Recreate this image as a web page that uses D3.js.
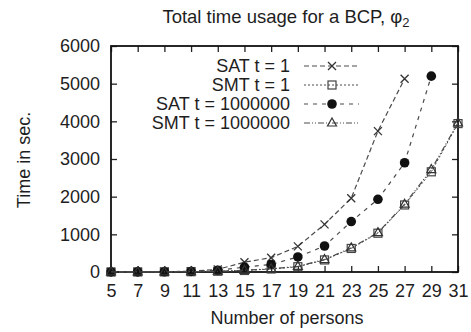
<!DOCTYPE html>
<html>
<head>
<meta charset="utf-8">
<script src="https://cdnjs.cloudflare.com/ajax/libs/d3/7.8.5/d3.min.js"></script>
<style>
  body { margin: 0; background: #fff; }
  text { font-family: "Liberation Sans", Arial, Helvetica, sans-serif; fill: #1e1e1e; }
</style>
</head>
<body>
<div id="chart"></div>
<script>
// number of persons
const persons = [5, 7, 9, 11, 13, 15, 17, 19, 21, 23, 25, 27, 29, 31];
const yTicks = [0, 1000, 2000, 3000, 4000, 5000, 6000];

// time in seconds (null = not run)
const satT1 = [2, 4, 8, 20, 70, 260, 380, 680, 1265, 1960, 3740, 5130, null, null];
const smtT1 = [1, 2, 4, 8, 20, 40, 80, 140, 320, 625, 1030, 1780, 2660, 3940];
const satTM = [1, 3, 6, 15, 45, 130, 200, 400, 690, 1340, 1930, 2900, 5200, null];
const smtTM = [1, 2, 4, 8, 20, 45, 85, 150, 330, 640, 1045, 1800, 2720, 3960];

const series = [
  { name: "SAT t = 1", values: satT1, dash: "5,3", marker: "cross", width: 1.2 },
  { name: "SMT t = 1", values: smtT1, dash: "2,2", marker: "square", width: 1 },
  { name: "SAT t = 1000000", values: satTM, dash: "4,5", marker: "circle", width: 1.2 },
  { name: "SMT t = 1000000", values: smtTM, dash: "6,2,1,2,1,2", marker: "triangle", width: 1.2 }
];

const W = 471, H = 332;
const margin = { top: 46, right: 13, bottom: 60, left: 111 };
const iw = W - margin.left - margin.right;
const ih = H - margin.top - margin.bottom;

const svg = d3.select("#chart").append("svg")
  .attr("width", W)
  .attr("height", H);

const x = d3.scaleLinear().domain([5, 31]).range([0, iw]);
const y = d3.scaleLinear().domain([0, 6000]).range([ih, 0]);

const g = svg.append("g").attr("transform", `translate(${margin.left},${margin.top})`);

// title
const title = svg.append("text")
  .attr("x", 286).attr("y", 23)
  .attr("text-anchor", "middle")
  .style("font-size", "18.5px");
title.append("tspan").text("Total time usage for a BCP, φ");
title.append("tspan").attr("dy", 4).style("font-size", "13px").text("2");

// axes (gnuplot style: inner ticks, mirrored)
const tickLen = 6;
const xAxis = g.append("g").attr("transform", `translate(0,${ih})`)
  .call(d3.axisBottom(x).tickValues(persons).tickSize(-tickLen).tickPadding(12).tickFormat(d3.format("d")));
const xTop = g.append("g")
  .call(d3.axisTop(x).tickValues(persons).tickSize(-tickLen).tickFormat(""));
const yAxis = g.append("g")
  .call(d3.axisLeft(y).tickValues(yTicks).tickSize(-tickLen).tickPadding(11).tickFormat(d3.format("d")));
const yRight = g.append("g").attr("transform", `translate(${iw},0)`)
  .call(d3.axisRight(y).tickValues(yTicks).tickSize(-tickLen).tickFormat(""));

[xAxis, xTop, yAxis, yRight].forEach(a => {
  a.select(".domain").remove();
  a.selectAll(".tick line").attr("stroke", "#222").attr("stroke-width", 1.3);
  a.selectAll("text").style("font-size", "18px").attr("fill", "#1e1e1e");
});

g.append("rect")
  .attr("width", iw).attr("height", ih)
  .attr("fill", "none").attr("stroke", "#111").attr("stroke-width", 1.8);

// axis labels
svg.append("text")
  .attr("x", 287).attr("y", 324)
  .attr("text-anchor", "middle")
  .style("font-size", "18px")
  .text("Number of persons");

svg.append("text")
  .attr("transform", "translate(30,160) rotate(-90)")
  .attr("text-anchor", "middle")
  .style("font-size", "18px")
  .text("Time in sec.");

// markers
function drawMarker(sel, type, cx, cy) {
  const s = 4;
  if (type === "cross") {
    sel.append("path")
      .attr("d", `M${cx - s},${cy - s}L${cx + s},${cy + s}M${cx - s},${cy + s}L${cx + s},${cy - s}`)
      .attr("stroke", "#333").attr("stroke-width", 1.3).attr("fill", "none");
  } else if (type === "square") {
    sel.append("rect")
      .attr("x", cx - s).attr("y", cy - s).attr("width", 2 * s).attr("height", 2 * s)
      .attr("fill", "none").attr("stroke", "#444").attr("stroke-width", 1.2);
  } else if (type === "circle") {
    sel.append("circle")
      .attr("cx", cx).attr("cy", cy).attr("r", 4.8)
      .attr("fill", "#111");
  } else if (type === "triangle") {
    sel.append("path")
      .attr("d", `M${cx},${cy - s - 1}L${cx + s + 0.5},${cy + s - 1}L${cx - s - 0.5},${cy + s - 1}Z`)
      .attr("fill", "none").attr("stroke", "#333").attr("stroke-width", 1.2);
  }
}

const line = d3.line()
  .defined(d => d.v !== null)
  .x(d => x(d.p))
  .y(d => y(d.v));

series.forEach(s => {
  const pts = persons.map((p, i) => ({ p: p, v: s.values[i] }));
  g.append("path")
    .datum(pts)
    .attr("d", line)
    .attr("fill", "none")
    .attr("stroke", "#4a4a4a")
    .attr("stroke-width", s.width)
    .attr("stroke-dasharray", s.dash);
  const mg = g.append("g");
  pts.filter(d => d.v !== null).forEach(d => drawMarker(mg, s.marker, x(d.p), y(d.v)));
});

// legend
const legend = svg.append("g");
series.forEach((s, i) => {
  const ly = 66 + i * 19;
  legend.append("text")
    .attr("x", 290).attr("y", ly)
    .attr("dy", "0.36em")
    .attr("text-anchor", "end")
    .style("font-size", "18px")
    .text(s.name);
  legend.append("line")
    .attr("x1", 304).attr("x2", 359)
    .attr("y1", ly).attr("y2", ly)
    .attr("stroke", "#4a4a4a")
    .attr("stroke-width", s.width)
    .attr("stroke-dasharray", s.dash);
  drawMarker(legend, s.marker, 332, ly);
});
</script>
</body>
</html>
